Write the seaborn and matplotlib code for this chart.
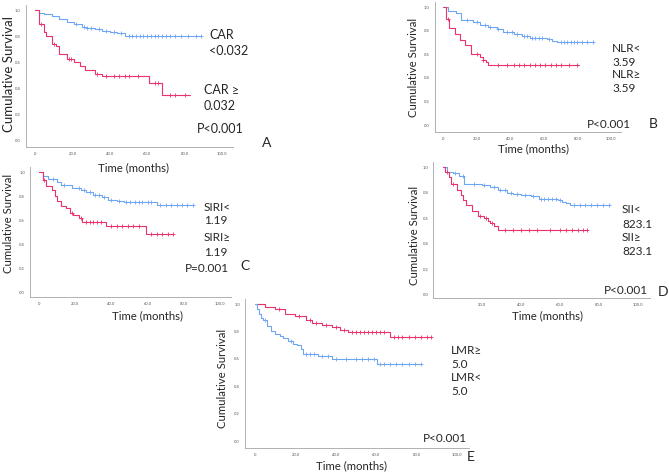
import numpy as np
import matplotlib
matplotlib.use("Agg")
import matplotlib.pyplot as plt
from matplotlib.ticker import FuncFormatter, MultipleLocator
import seaborn as sns

BLUE = "#6fa6f2"
RED = "#e8346a"

# ---- panel A : CAR
A_low_t = [0, 2, 5, 9, 13, 17, 21, 25, 28, 32, 36, 40, 44, 48, 89]
A_low_s = [1.0, 0.98, 0.97, 0.95, 0.93, 0.91, 0.89, 0.87, 0.86, 0.85, 0.84, 0.83, 0.82, 0.80, 0.80]
A_low_c = [22, 26, 28, 30, 34, 38, 42, 46, 50, 52, 54, 56, 58, 60, 62, 64, 66, 68, 70, 72, 75, 78, 82, 86, 89]
A_high_t = [0, 2, 5, 6, 9, 11, 13, 17, 21, 24, 27, 32, 36, 61, 68, 83]
A_high_s = [1.0, 0.89, 0.83, 0.80, 0.74, 0.72, 0.66, 0.62, 0.60, 0.57, 0.54, 0.51, 0.49, 0.44, 0.35, 0.35]
A_high_c = [3, 10, 18, 19, 33, 38, 42, 45, 48, 50, 55, 64, 66, 72, 75, 80]

# ---- panel B : NLR
B_low_t = [0, 3, 8, 11, 18, 22, 27, 32, 36, 42, 47, 52, 62, 65, 68, 89]
B_low_s = [1.0, 0.97, 0.95, 0.89, 0.87, 0.85, 0.83, 0.81, 0.79, 0.77, 0.755, 0.74, 0.73, 0.71, 0.70, 0.70]
B_low_c = [14, 20, 25, 28, 33, 38, 41, 44, 48, 50, 53, 55, 57, 59, 63, 70, 72, 74, 76, 78, 80, 83, 86, 89]
B_high_t = [0, 2, 3.5, 7, 10, 13, 16.5, 22, 24, 25.5, 26.6, 80.7]
B_high_s = [1.0, 0.90, 0.82, 0.77, 0.72, 0.68, 0.60, 0.58, 0.55, 0.53, 0.505, 0.505]
B_high_c = [3, 20, 24, 33, 38, 42, 45, 48, 52, 55, 58, 61, 64, 67, 70, 75, 80]

# ---- panel C : SIRI
C_low_t = [0, 2, 5, 10, 12, 18, 23, 26, 30, 35, 38, 43, 47, 65, 85]
C_low_s = [1.0, 0.97, 0.94, 0.92, 0.89, 0.87, 0.85, 0.83, 0.81, 0.79, 0.77, 0.76, 0.75, 0.725, 0.725]
C_low_c = [8, 14, 22, 25, 28, 31, 33, 36, 40, 44, 48, 50, 53, 55, 57, 60, 62, 67, 70, 73, 76, 79, 82, 85]
C_high_t = [0, 2, 4, 7, 9, 10, 12, 15, 17, 19, 22, 24, 37, 59, 74]
C_high_s = [1.0, 0.93, 0.88, 0.85, 0.80, 0.76, 0.72, 0.70, 0.66, 0.64, 0.62, 0.58, 0.55, 0.48, 0.48]
C_high_c = [3, 18, 23, 26, 28, 30, 32, 34, 40, 43, 46, 49, 52, 55, 62, 65, 68, 71, 74]

# ---- panel D : SII
D_low_t = [0, 2, 5, 8, 11, 20, 24, 28, 33, 36, 40, 45, 49, 59, 61, 63, 65, 85.5]
D_low_s = [1.0, 0.96, 0.95, 0.93, 0.87, 0.86, 0.84, 0.82, 0.80, 0.79, 0.78, 0.77, 0.75, 0.74, 0.73, 0.72, 0.705, 0.705]
D_low_c = [6, 10, 16, 21, 26, 29, 32, 35, 38, 42, 46, 50, 52, 54, 56, 58, 60, 67, 70, 73, 76, 79, 82, 85]
D_high_t = [0, 1, 3, 4.3, 7, 9, 10, 12, 15, 18, 21, 23, 24, 26, 28.2, 74]
D_high_s = [1.0, 0.96, 0.92, 0.865, 0.82, 0.78, 0.74, 0.70, 0.66, 0.62, 0.60, 0.58, 0.56, 0.54, 0.505, 0.505]
D_high_c = [2, 5, 19, 22, 25, 32, 36, 40, 44, 48, 55, 60, 63, 66, 69, 72, 74]

# ---- panel E : LMR
E_high_t = [0, 5, 10, 15, 20, 25, 28, 33, 38, 42, 46, 67, 87]
E_high_s = [1.0, 0.98, 0.96, 0.93, 0.91, 0.88, 0.86, 0.845, 0.83, 0.81, 0.795, 0.76, 0.76]
E_high_c = [12, 22, 27, 30, 35, 40, 44, 48, 50, 52, 54, 56, 58, 60, 62, 64, 69, 71, 73, 76, 79, 82, 85, 87]
E_low_t = [0, 1, 2, 3, 4, 6, 8, 10, 12.4, 14, 16.5, 19, 21, 23, 24, 31, 38, 60.3, 81.8]
E_low_s = [1.0, 0.96, 0.93, 0.90, 0.88, 0.84, 0.80, 0.78, 0.77, 0.75, 0.73, 0.71, 0.70, 0.67, 0.635, 0.62, 0.60, 0.565, 0.565]
E_low_c = [5, 18, 25, 27, 29, 33, 36, 40, 45, 50, 53, 56, 59, 62, 64, 67, 70, 73, 76, 79, 82]

W, H = 669, 473
sns.set_style("white")
plt.rcParams["font.family"] = ["Lato", "DejaVu Sans"]

fig = plt.figure(figsize=(W / 100, H / 100), dpi=100)


def px(x, y):
    return x / W, 1 - y / H


def km(ax, t, s, c, color):
    t = np.asarray(t, float)
    s = np.asarray(s, float)
    c = np.asarray(c, float)
    sns.lineplot(x=t, y=s, drawstyle="steps-post", color=color, linewidth=0.8,
                 estimator=None, ax=ax)
    cy = s[np.searchsorted(t, c, side="right") - 1]
    sns.scatterplot(x=c, y=cy, marker="+", s=9, color=color, linewidth=0.6, ax=ax, zorder=3)


def panel(x0, x100, y1, y0, curves, bot=0.05):
    ppm = (x100 - x0) / 100
    ppu = y0 - y1
    left, right = x0 - 5 * ppm, x0 + 106 * ppm
    top, bottom = y1 - 0.04 * ppu, y0 + bot * ppu
    ax = fig.add_axes([left / W, 1 - bottom / H, (right - left) / W, (bottom - top) / H])
    for t, s, c, col in curves:
        km(ax, t, s, c, col)
    ax.set_xlim(-5, 106)
    ax.set_ylim(-bot, 1.04)
    ax.xaxis.set_major_locator(MultipleLocator(20))
    ax.yaxis.set_major_locator(MultipleLocator(0.2))
    ax.xaxis.set_major_formatter(FuncFormatter(lambda v, p: ".0" if v == 0 else f"{v:.1f}"))
    ax.yaxis.set_major_formatter(FuncFormatter(lambda v, p: f"{v:.1f}"))
    ax.tick_params(labelsize=3, colors="#555555", length=1.5, width=0.4, pad=2)
    sns.despine(ax=ax)
    for sp in ("left", "bottom"):
        ax.spines[sp].set_color("#b0b0b0")
        ax.spines[sp].set_linewidth(0.7)
    ax.set_xlabel("")
    ax.set_ylabel("")
    return ax


def labels(xl, yl, yfs=8.2, xfs=8.2):
    fig.text(*px(*xl), "Time (months)", ha="center", va="center", fontsize=xfs)
    fig.text(*px(*yl), "Cumulative Survival", ha="center", va="center", rotation=90, fontsize=yfs)


def txt(x, y, s, fs=8.5):
    fig.text(*px(x, y), s, ha="left", va="center", fontsize=fs)


# A
panel(35, 222, 10, 140, [(A_low_t, A_low_s, A_low_c, BLUE), (A_high_t, A_high_s, A_high_c, RED)], bot=0.055)
labels((133, 168), (9, 74), yfs=9.5)
txt(209, 35, "CAR", 9)
txt(209, 51, "<0.032", 9)
txt(204, 90, "CAR ≥", 9)
txt(204, 106, "0.032", 9)
txt(197, 129, "P<0.001", 9)
txt(262, 143, "A", 10)

# B
panel(443, 611, 7, 125, [(B_low_t, B_low_s, B_low_c, BLUE), (B_high_t, B_high_s, B_high_c, RED)], bot=0.06)
labels((533, 149), (413, 67))
txt(612, 48, "NLR<")
txt(612, 62, "3.59")
txt(612, 74, "NLR≥")
txt(612, 88, "3.59")
txt(587, 124, "P<0.001")
txt(649, 124, "B", 10)

# C
panel(39, 220, 172, 292, [(C_low_t, C_low_s, C_low_c, BLUE), (C_high_t, C_high_s, C_high_c, RED)], bot=0.04)
labels((147, 316), (9, 223))
txt(204, 207, "SIRI<")
txt(204, 221, "1.19")
txt(204, 237, "SIRI≥")
txt(204, 252, "1.19")
txt(185, 268, "P=0.001")
txt(240, 266, "C", 10)

# D
panel(443, 638, 167, 295, [(D_low_t, D_low_s, D_low_c, BLUE), (D_high_t, D_high_s, D_high_c, RED)], bot=0.025)
labels((548, 316), (415, 235))
txt(622, 209, "SII<")
txt(622, 224, "823.1")
txt(622, 237, "SII≥")
txt(622, 251, "823.1")
txt(604, 290, "P<0.001")
txt(658, 292, "D", 10)

# E
panel(255, 457, 304, 441, [(E_high_t, E_high_s, E_high_c, RED), (E_low_t, E_low_s, E_low_c, BLUE)], bot=0.05)
labels((352, 466), (223, 378))
txt(451, 351, "LMR≥")
txt(451, 365, "5.0")
txt(451, 377, "LMR<")
txt(451, 391, "5.0")
txt(423, 438, "P<0.001")
txt(467, 457, "E", 10)

fig.savefig("out.png", dpi=100)
